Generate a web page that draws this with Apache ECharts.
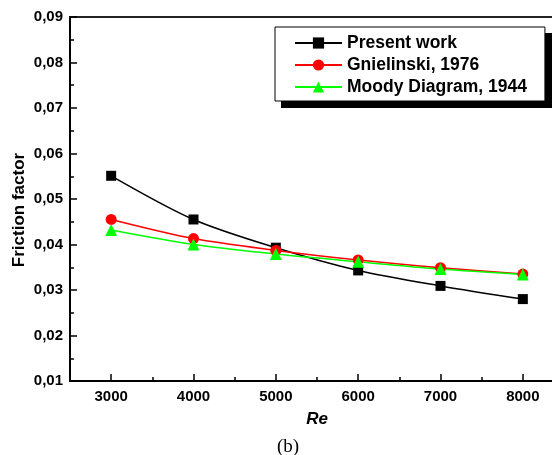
<!DOCTYPE html>
<html>
<head>
<meta charset="utf-8">
<script src="https://cdn.jsdelivr.net/npm/echarts@6/dist/echarts.min.js"></script>
<style>
  html, body { margin: 0; padding: 0; background: #fff; }
  #chart { width: 552px; height: 455px; }
</style>
</head>
<body>
<div id="chart"></div>
<script>
// Reynolds numbers and friction factors for each correlation
const reynolds = [3000, 4000, 5000, 6000, 7000, 8000];
const presentWork = [0.0551, 0.0455, 0.0393, 0.0343, 0.0309, 0.0280];
const gnielinski = [0.0455, 0.0413, 0.0387, 0.0366, 0.0349, 0.0335];
const moody = [0.0432, 0.0400, 0.0379, 0.0362, 0.0346, 0.0334];

// Axis ticks
const xMajorTicks = [3000, 4000, 5000, 6000, 7000, 8000];
const xMinorTicks = [3500, 4500, 5500, 6500, 7500];

const seriesNames = ['Present work', 'Gnielinski, 1976', 'Moody Diagram, 1944'];

const FONT = '"Liberation Sans", Arial, Helvetica, sans-serif';

const toPairs = (ys) => reynolds.map((x, i) => [x, ys[i]]);

const chart = echarts.init(document.getElementById('chart'), null, { renderer: 'canvas' });

const xBase = {
  type: 'value',
  min: 2500,
  max: 8500,
  position: 'bottom',
  splitLine: { show: false }
};

chart.setOption({
  animation: false,
  backgroundColor: '#fff',
  grid: {
    left: 70,
    top: 17,
    width: 494,
    bottom: 74,
    outerBoundsMode: 'none',
    containLabel: false,
    show: true,
    borderColor: '#222',
    borderWidth: 2
  },
  legend: {
    orient: 'vertical',
    left: 275,
    top: 27,
    z: 10,
    padding: [7, 18, 5, 19],
    itemWidth: 47,
    itemHeight: 14,
    itemGap: 4,
    backgroundColor: '#fff',
    borderColor: '#000',
    borderWidth: 1,
    textStyle: { fontFamily: FONT, fontWeight: 'bold', fontSize: 17.5, color: '#000' },
    data: seriesNames
  },
  xAxis: [
    Object.assign({}, xBase, {
      name: 'Re',
      nameLocation: 'middle',
      nameGap: 30,
      nameMoveOverlap: false,
      nameTextStyle: { fontFamily: FONT, fontWeight: 'bold', fontStyle: 'italic', fontSize: 17, color: '#000' },
      axisLine: { show: true, lineStyle: { color: '#000', width: 2 } },
      axisTick: { show: true, inside: true, length: 7, customValues: xMajorTicks, lineStyle: { color: '#000', width: 1.5 } },
      axisLabel: {
        customValues: xMajorTicks,
        margin: 8,
        fontFamily: FONT,
        fontWeight: 'bold',
        fontSize: 15,
        color: '#000',
        formatter: (v) => String(v)
      }
    }),
    Object.assign({}, xBase, {
      axisLine: { show: false },
      axisTick: { show: true, inside: true, length: 4, customValues: xMinorTicks, lineStyle: { color: '#000', width: 1.5 } },
      axisLabel: { show: false }
    })
  ],
  yAxis: {
    type: 'value',
    min: 0.01,
    max: 0.09,
    interval: 0.01,
    name: 'Friction factor',
    nameLocation: 'middle',
    nameGap: 42,
    nameMoveOverlap: false,
    nameTextStyle: { fontFamily: FONT, fontWeight: 'bold', fontSize: 17, color: '#000', padding: [0, 22, 0, 0] },
    splitLine: { show: false },
    axisLine: { show: true, lineStyle: { color: '#000', width: 2 } },
    axisTick: { show: true, inside: true, length: 7, lineStyle: { color: '#000', width: 1.5 } },
    minorTick: { show: true, splitNumber: 2, length: 4, lineStyle: { color: '#000', width: 1.5 } },
    axisLabel: {
      margin: 7,
      fontFamily: FONT,
      fontWeight: 'bold',
      fontSize: 15,
      color: '#000',
      formatter: (v) => v.toFixed(2).replace('.', ',')
    }
  },
  series: [
    {
      name: seriesNames[0],
      type: 'line',
      xAxisIndex: 0,
      data: toPairs(presentWork),
      smooth: 0.3,
      symbol: 'rect',
      symbolSize: 10,
      color: '#000',
      lineStyle: { color: '#000', width: 1.5 },
      itemStyle: { color: '#000' }
    },
    {
      name: seriesNames[1],
      type: 'line',
      xAxisIndex: 0,
      data: toPairs(gnielinski),
      smooth: 0.3,
      symbol: 'circle',
      symbolSize: 11,
      color: '#ff0000',
      lineStyle: { color: '#ff0000', width: 1.5 },
      itemStyle: { color: '#ff0000' }
    },
    {
      name: seriesNames[2],
      type: 'line',
      xAxisIndex: 0,
      data: toPairs(moody),
      smooth: 0.3,
      symbol: 'triangle',
      symbolSize: 12,
      color: '#00ff00',
      lineStyle: { color: '#00ff00', width: 1.5 },
      itemStyle: { color: '#00ff00' }
    }
  ],
  graphic: [
    {
      // drop shadow behind the legend box
      type: 'rect',
      z: 5,
      shape: { x: 281, y: 33, width: 271, height: 75 },
      style: { fill: '#000' }
    },
    {
      type: 'text',
      x: 288,
      y: 447,
      style: {
        text: '(b)',
        font: '19px "Liberation Serif", "Times New Roman", serif',
        fill: '#000',
        align: 'center',
        verticalAlign: 'middle'
      }
    },
    {
      type: 'text',
      x: 288,
      y: 1,
      style: {
        text: '(a)',
        font: '19px "Liberation Serif", "Times New Roman", serif',
        fill: '#888',
        align: 'center',
        verticalAlign: 'bottom'
      }
    }
  ]
});
</script>
</body>
</html>
